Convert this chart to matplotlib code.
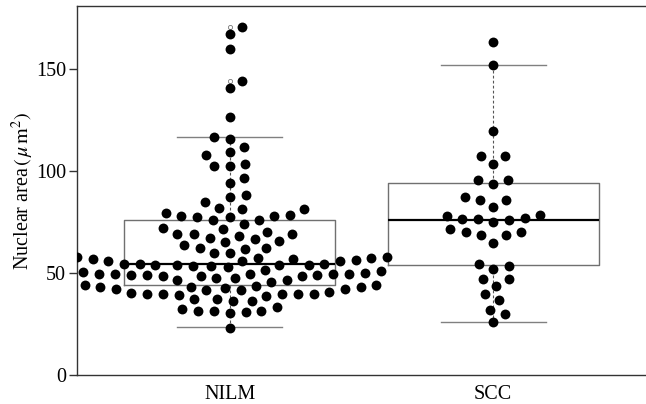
import numpy as np
import matplotlib.pyplot as plt

plt.rcParams['font.family'] = 'Liberation Serif'
plt.rcParams['mathtext.fontset'] = 'stix'

groups = ['NILM', 'SCC']

# nuclear areas (um^2)
nilm = [170.5, 166.8, 159.6, 144.1, 140.3, 126.4, 116.6, 115.4, 111.8, 109.3,
        107.5, 103.3, 102.3, 102.3, 96.6,
        94.0, 88.1, 87.3, 84.7, 81.9, 81.3, 81.3, 79.3, 78.5, 77.8, 77.5, 77.5,
        77.8, 75.9, 75.7, 73.9,
        70.2, 71.3, 71.9, 68.9, 68.9, 69.0, 67.2, 68.2, 66.4, 65.3, 65.6, 63.5,
        62.2, 62.2, 61.7, 59.6, 59.6,
        57.6, 57.9, 57.1, 57.8, 56.8, 57.4, 56.1, 55.6, 55.9, 55.8, 54.5, 54.5,
        53.7, 54.0, 53.2, 53.7, 53.5, 54.0, 54.5, 53.0, 51.4,
        50.8, 50.9, 49.6, 49.1, 48.9, 48.6, 49.3, 49.6, 48.6, 48.8, 49.3, 49.3,
        48.3, 47.6, 47.5, 46.5, 45.7, 46.5,
        43.9, 43.9, 43.9, 43.2, 42.6, 41.6, 42.9, 42.1, 41.6, 42.9, 41.9, 40.0,
        39.8, 39.6, 39.6, 39.8, 40.8, 39.0, 39.5, 38.7,
        37.3, 37.2, 36.4, 36.4, 32.5, 31.5, 31.3, 30.5, 30.8, 31.5, 33.3, 23.2,
        56.8, 49.8, 50.6, 43.6]
scc = [162.8, 151.7, 119.4, 107.3, 107.3, 103.3, 95.3, 95.3, 93.5,
       87.0, 85.7, 85.5, 82.1, 77.8, 76.2, 76.2, 74.7, 75.9, 76.7, 78.5,
       71.3, 70.0, 68.7, 68.5, 70.2, 64.8, 54.2, 51.7, 53.2, 46.8, 47.1,
       43.6, 39.5, 36.7, 31.8, 30.0, 25.9]

# box statistics as drawn
box_lo = [23.3, 25.9]
box_q1 = [43.9, 53.8]
box_med = [54.3, 76.0]
box_q3 = [75.7, 94.1]
box_hi = [116.6, 151.6]


def swarm(vals, xsize, ysize):
    # beeswarm "swarm" placement, smallest values first
    vals = np.asarray(vals, dtype=float)
    order = np.argsort(vals, kind='stable')
    y = vals[order] / ysize
    x = np.zeros(len(y))
    for i in range(1, len(y)):
        near = y[i] - y[:i] < 1
        if not near.any():
            continue
        py = y[:i][near]
        px = x[:i][near]
        srt = np.argsort(np.abs(px), kind='stable')
        py, px = py[srt], px[srt]
        off = np.sqrt(1 - (y[i] - py) ** 2)
        cand = np.concatenate([[0.0], px + off, px - off])
        bad = np.array([np.any((y[i] - py) ** 2 + (c - px) ** 2 < 0.999) for c in cand])
        cand[bad] = np.inf
        x[i] = cand[np.argmin(np.abs(cand))]
    out = np.empty(len(y))
    out[order] = x * xsize
    return out


W, H = 646, 404
fig = plt.figure(figsize=(W / 100, H / 100), dpi=100)
ax = fig.add_axes([77 / W, 1 - 375 / H, 569 / W, 369 / H])
xlim = (0.42, 2.58)
ylim = (0, 180.6)
ax.set_xlim(xlim)
ax.set_ylim(ylim)

# collision size of the dots in pixels (wider than tall)
px_x = 569 / (xlim[1] - xlim[0])
px_y = 369 / (ylim[1] - ylim[0])
xsize = 15.9 / px_x
ysize = 12.3 / px_y

stats = []
for i, data in enumerate([nilm, scc]):
    d = np.array(data)
    fl = d[(d > box_hi[i]) | (d < box_lo[i])]
    stats.append(dict(whislo=box_lo[i], q1=box_q1[i], med=box_med[i],
                      q3=box_q3[i], whishi=box_hi[i], fliers=fl))

ax.bxp(stats, positions=[1, 2], widths=0.8, capwidths=0.4,
       boxprops=dict(color='#707070', linewidth=1.0),
       medianprops=dict(color='black', linewidth=1.6),
       whiskerprops=dict(color='#555555', linewidth=0.8, linestyle=(0, (2.5, 2))),
       capprops=dict(color='#808080', linewidth=1.0),
       flierprops=dict(marker='o', markersize=3, markerfacecolor='white',
                       markeredgecolor='#777777', markeredgewidth=0.6),
       manage_ticks=False)

for i, data in enumerate([nilm, scc]):
    xo = swarm(data, xsize, ysize)
    ax.plot(i + 1 + xo, data, 'o', color='black', markersize=7.1,
            markeredgewidth=0, zorder=5, clip_on=True)

ax.spines['right'].set_visible(False)
for s in ['left', 'top', 'bottom']:
    ax.spines[s].set_color('#333333')
    ax.spines[s].set_linewidth(1.0)

ax.set_yticks([0, 50, 100, 150])
ax.tick_params(axis='y', length=6, width=1, color='#333333', pad=2, labelsize=14.5)
ax.set_xticks([1, 2])
ax.set_xticklabels(groups)
ax.tick_params(axis='x', length=0, pad=7, labelsize=14.5)
ax.set_ylabel(r'Nuclear area$\,(\,\mu\,\mathrm{m}^2)$', fontsize=14.5, labelpad=0)

fig.savefig('out.png', dpi=100)
